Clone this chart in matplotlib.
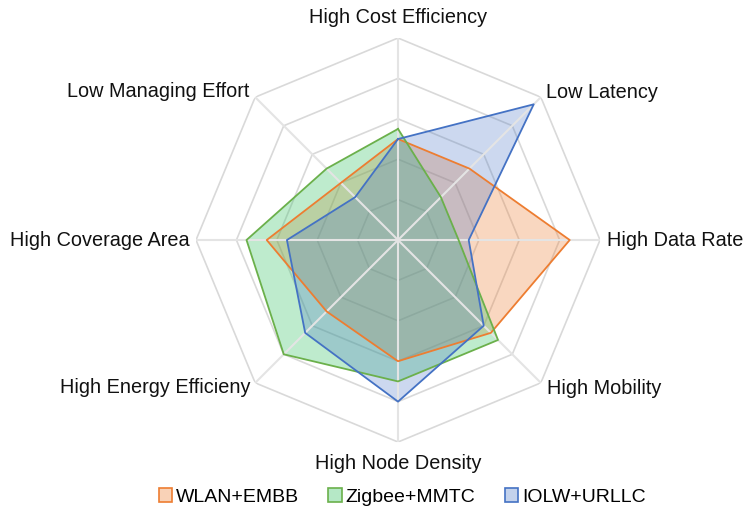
import numpy as np
import matplotlib
matplotlib.use("Agg")
import matplotlib.pyplot as plt
from matplotlib.patches import Patch

plt.rcParams['font.family'] = ['Liberation Sans', 'DejaVu Sans']

# kategoriyalar (soat mili boyicha, tepadan)
kategoriyalar = ["High Cost Efficiency", "Low Latency", "High Data Rate", "High Mobility",
                 "High Node Density", "High Energy Efficieny", "High Coverage Area",
                 "Low Managing Effort"]

seriya_nomlari = ["WLAN+EMBB", "Zigbee+MMTC", "IOLW+URLLC"]
wlan = [2.5, 2.5, 4.25, 3.25, 3.0, 2.5, 3.25, 2.0]
zigbee = [2.75, 1.5, 1.5, 3.5, 3.5, 4.0, 3.75, 2.5]
iolw = [2.5, 4.75, 1.75, 3.0, 4.0, 3.25, 2.75, 1.5]

chiziq_rang = ["#ED7D31", "#6BB04B", "#4472C4"]
fon_rang = ["#ED7D31", "#3CC36A", "#4472C4"]
fon_alpha = [0.30, 0.33, 0.27]

n = len(kategoriyalar)
burchak = np.linspace(0, 2 * np.pi, n, endpoint=False)
burchak_yopiq = np.append(burchak, burchak[0])

fig = plt.figure(figsize=(7.49, 5.15), dpi=100)
ax = fig.add_axes([0.2617, 0.1417, 0.5394, 0.7845], projection="polar")
ax.set_theta_zero_location("N")
ax.set_theta_direction(-1)
ax.set_ylim(0, 5)
ax.grid(False)
ax.spines["polar"].set_visible(False)
ax.set_xticks([])
ax.set_yticks([])

# sakkizburchak halqalar
for lv in range(1, 6):
    ax.plot(burchak_yopiq, [lv] * (n + 1), color="#d9d9d9", lw=1.2, zorder=0)

for i, qiymat in enumerate([wlan, zigbee, iolw]):
    v = qiymat + qiymat[:1]
    ax.fill(burchak_yopiq, v, color=fon_rang[i], alpha=fon_alpha[i], lw=0, zorder=2)
    ax.plot(burchak_yopiq, v, color=chiziq_rang[i], lw=1.3, zorder=4)

# o'qlar (tepada, ochroq)
for b in burchak:
    ax.plot([b, b], [0, 5], color="#e4e4e4", lw=1.5, zorder=3)

# yorliqlar
joy = [(5.5, "center"), (5.18, "left"), (5.17, "left"), (5.2, "left"),
       (5.52, "center"), (5.18, "right"), (5.15, "right"), (5.2, "right")]
for b, nom, (r, ha) in zip(burchak, kategoriyalar, joy):
    ax.text(b, r, nom, ha=ha, va="center", fontsize=14.3, color="#111111")

handles = [Patch(facecolor=fon_rang[i], edgecolor=chiziq_rang[i], lw=1.2)
           for i in range(3)]
for i, h in enumerate(handles):
    fc = matplotlib.colors.to_rgb(fon_rang[i])
    a = fon_alpha[i] + 0.05
    h.set_facecolor(tuple(1 - a * (1 - c) for c in fc))

fig.legend(handles, seriya_nomlari, loc="center", bbox_to_anchor=(0.537, 0.035),
           ncol=3, frameon=False, fontsize=14, handlelength=0.7, handleheight=0.7,
           handletextpad=0.2, columnspacing=1.5)

fig.savefig("out.png", dpi=100)
